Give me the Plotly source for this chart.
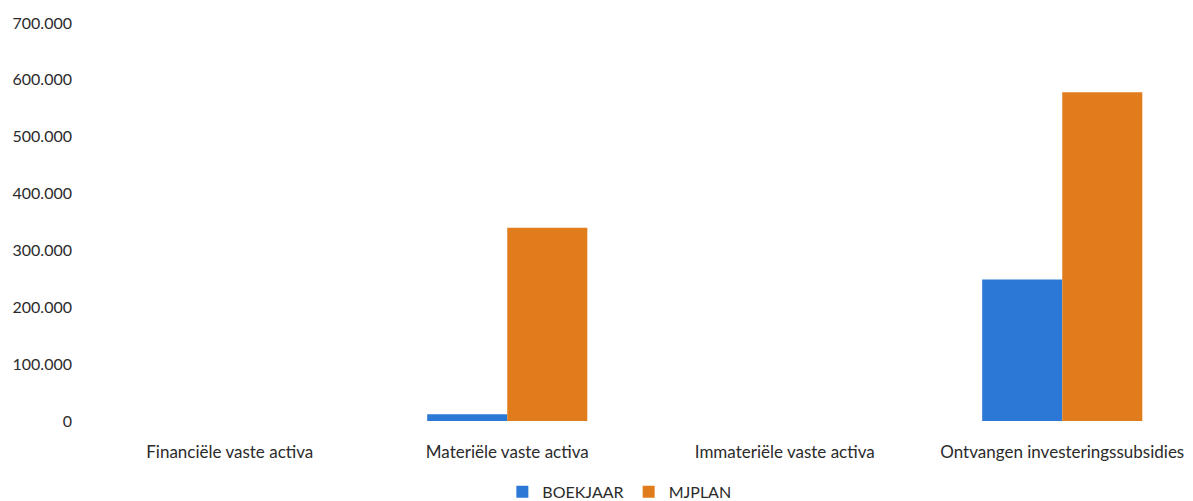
import plotly.graph_objects as go

categories = ["Financiële vaste activa", "Materiële vaste activa",
              "Immateriële vaste activa", "Ontvangen investeringssubsidies"]
boekjaar = [0, 12000, 0, 249000]
mjplan = [0, 340000, 0, 578000]
y_ticks = [0, 100000, 200000, 300000, 400000, 500000, 600000, 700000]

BLUE = "#2C78D7"
ORANGE = "#E17C1C"
FONT = "Lato"
TXT = "#2b2b2b"

fig = go.Figure()
fig.add_trace(go.Bar(name="BOEKJAAR", x=categories, y=boekjaar,
                     marker=dict(color=BLUE, line=dict(width=0))))
fig.add_trace(go.Bar(name="MJPLAN", x=categories, y=mjplan,
                     marker=dict(color=ORANGE, line=dict(width=0))))

fig.update_layout(
    width=1193, height=501,
    barmode="group", bargap=0.423, bargroupgap=0,
    separators=",.",
    paper_bgcolor="white", plot_bgcolor="white",
    margin=dict(l=83, r=0, t=15, b=81),
    font=dict(family=FONT, size=16, color=TXT),
    legend=dict(orientation="h", x=0.476, xanchor="center", y=-0.178, yanchor="middle",
                font=dict(size=16, color=TXT), itemwidth=30, tracegroupgap=0),
    showlegend=True,
)
fig.update_xaxes(range=[-0.5, 3.5], automargin=False, showgrid=False, showline=False,
                 zeroline=False, ticks="", ticklabelstandoff=19,
                 tickfont=dict(size=17, color=TXT))
fig.update_yaxes(range=[0, 700000], tickvals=y_ticks, tickformat=",d", automargin=False,
                 showgrid=False, showline=False, zeroline=False, ticks="",
                 ticklabelstandoff=18, tickfont=dict(size=16, color=TXT))

fig.write_html("out.html")
